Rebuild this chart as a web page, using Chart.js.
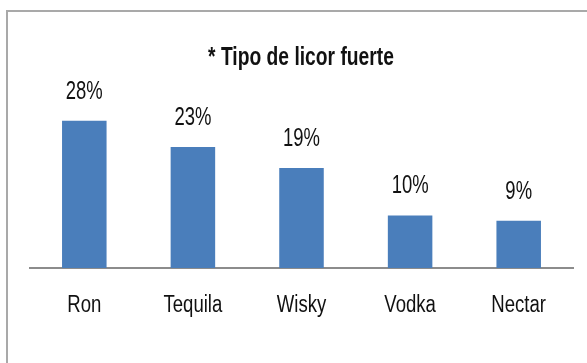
<!DOCTYPE html>
<html lang="es">
<head>
  <meta charset="UTF-8">
  <title>Tipo de licor fuerte</title>
  <script src="https://cdn.jsdelivr.net/npm/chart.js"></script>
  <style>
    html, body { margin: 0; padding: 0; background: #fff; overflow: hidden; }
    .marco {
      position: absolute; left: 6px; top: 10px; width: 620px; height: 400px;
      border: 2px solid #a9a9a9; box-sizing: border-box;
    }
    .caja { position: absolute; left: 0; top: 0; width: 587px; height: 363px; }
  </style>
</head>
<body>
  <div class="marco"></div>
  <div class="caja"><canvas id="grafico" width="587" height="363"></canvas></div>

  <script>
    // datos del gráfico
    const licores = ['Ron', 'Tequila', 'Wisky', 'Vodka', 'Nectar'];
    const porcentajes = [28, 23, 19, 10, 9];
    const titulo = '* Tipo de licor fuerte';

    const fuente = "'Liberation Sans', Arial, sans-serif";

    // texto estrecho: se comprime en horizontal alrededor de (x, y)
    function textoEstrecho(ctx, texto, x, y, font, ancho) {
      ctx.save();
      ctx.font = font;
      ctx.translate(x, y);
      ctx.scale(ancho, 1);
      ctx.fillText(texto, 0, 0);
      ctx.restore();
    }

    // título, etiquetas de categoría y porcentajes sobre las barras
    const textos = {
      id: 'textos',
      afterDatasetsDraw(chart) {
        const ctx = chart.ctx;
        const meta = chart.getDatasetMeta(0);
        const ejeX = chart.scales.x;
        const base = chart.chartArea.bottom;
        ctx.save();
        ctx.fillStyle = '#111';
        ctx.textAlign = 'center';
        ctx.textBaseline = 'alphabetic';

        textoEstrecho(ctx, titulo, 301, 65, 'bold 25px ' + fuente, 0.77);

        meta.data.forEach((barra, i) => {
          textoEstrecho(ctx, porcentajes[i] + '%', barra.x, barra.y - 22, '26px ' + fuente, 0.71);
        });

        licores.forEach((nombre, i) => {
          textoEstrecho(ctx, nombre, ejeX.getPixelForTick(i), base + 44, '23.5px ' + fuente, 0.79);
        });
        ctx.restore();
      }
    };

    const ctx = document.getElementById('grafico').getContext('2d');
    new Chart(ctx, {
      type: 'bar',
      data: {
        labels: licores,
        datasets: [{
          data: porcentajes,
          backgroundColor: '#4a7ebb',
          categoryPercentage: 1,
          barPercentage: 0.41
        }]
      },
      options: {
        responsive: false,
        animation: false,
        layout: { padding: { left: 30, right: 14, top: 84, bottom: 95 } },
        plugins: {
          legend: { display: false },
          tooltip: { enabled: false },
          title: { display: false }
        },
        scales: {
          x: {
            grid: { display: false, drawTicks: false },
            border: { color: '#8c8c8c', width: 2 },
            ticks: { display: false }
          },
          y: {
            display: false,
            min: 0,
            max: 35
          }
        }
      },
      plugins: [textos]
    });
  </script>
</body>
</html>
